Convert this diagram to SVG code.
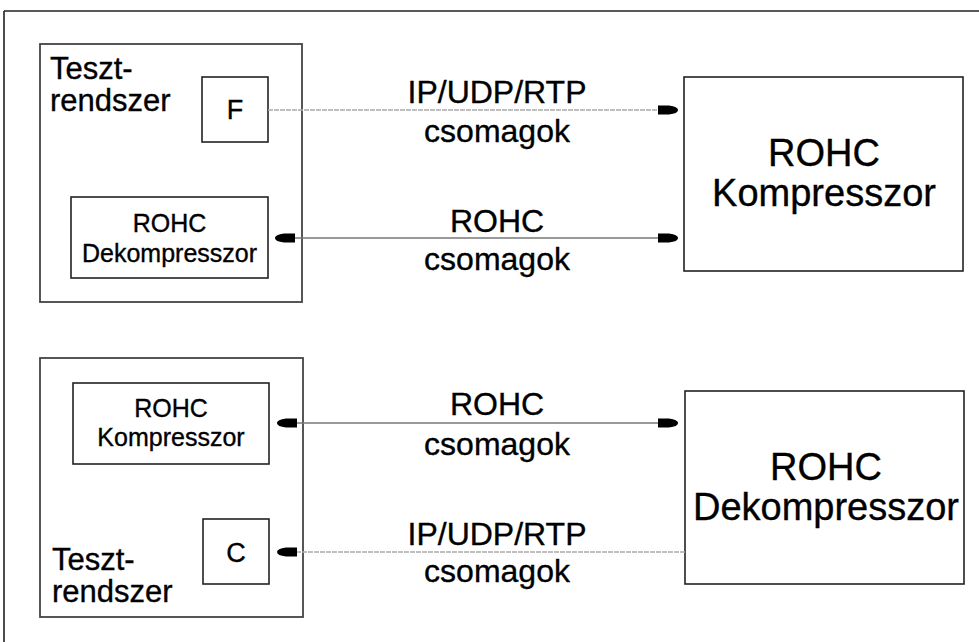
<svg xmlns="http://www.w3.org/2000/svg" width="979" height="642" viewBox="0 0 979 642">
<style>
text{font-family:"Liberation Sans",Arial,sans-serif;fill:#000;stroke:#000;stroke-width:0.35;}
.c{text-anchor:middle;}
.box{fill:#fff;stroke:#222;stroke-width:1.6;}
.outer{fill:#fff;stroke:#444;stroke-width:1.8;}
.solid{stroke:#777;stroke-width:1.4;fill:none;}
.dash{stroke:#aaa;stroke-width:1.6;stroke-dasharray:5 1;fill:none;}
.lbl{font-size:32px;}
.big{font-size:38px;}
.mid{font-size:25px;}
.fc{font-size:27px;}
.tz{font-size:31px;}
</style>
<defs>
<marker id="ah" viewBox="0 0 20 12" markerWidth="20" markerHeight="12" refX="20" refY="6" markerUnits="userSpaceOnUse" orient="auto-start-reverse">
<path d="M0,1.5 L11,1.5 Q20,2.5 20,6 Q20,9.5 11,10.5 L0,10.5 Z" fill="#000"/>
</marker>
</defs>
<rect width="979" height="642" fill="#fff"/>
<g id="frame">
<path d="M4,11 H979 M4,11 V642" stroke="#222" stroke-width="1.6" fill="none"/>
</g>
<g id="test-system-top">
<rect class="outer" x="40" y="44" width="262" height="258"/>
<text class="tz" x="50" y="79">Teszt-</text>
<text class="tz" x="50" y="111">rendszer</text>
</g>
<g id="F">
<rect class="box" x="202" y="77" width="66" height="65"/>
<text class="fc c" x="235" y="119">F</text>
</g>
<g id="dekomp-small">
<rect class="box" x="71" y="197" width="197" height="81"/>
<text class="mid c" x="169.5" y="232">ROHC</text>
<text class="mid c" x="169.5" y="262">Dekompresszor</text>
</g>
<g id="komp-big">
<rect class="box" x="684" y="77" width="279" height="194"/>
<text class="big c" x="824" y="166">ROHC</text>
<text class="big c" x="824" y="206">Kompresszor</text>
</g>
<g id="test-system-bottom">
<rect class="outer" x="40" y="358" width="263" height="259"/>
<text class="tz" x="52" y="570">Teszt-</text>
<text class="tz" x="52" y="602">rendszer</text>
</g>
<g id="komp-small">
<rect class="box" x="73" y="383" width="196" height="81"/>
<text class="mid c" x="171" y="417">ROHC</text>
<text class="mid c" x="171" y="446">Kompresszor</text>
</g>
<g id="C">
<rect class="box" x="203" y="519" width="66" height="65"/>
<text class="fc c" x="236" y="562">C</text>
</g>
<g id="dekomp-big">
<rect class="box" x="685" y="391" width="279" height="193"/>
<text class="big c" x="826" y="480">ROHC</text>
<text class="big c" x="826" y="520">Dekompresszor</text>
</g>
<g id="connectors">
<path class="dash" d="M268,110 H678" marker-end="url(#ah)"/>
<path class="solid" d="M275,238 H678" marker-start="url(#ah)" marker-end="url(#ah)"/>
<path class="solid" d="M277,423 H678" marker-start="url(#ah)" marker-end="url(#ah)"/>
<path class="dash" d="M685,552 H277" marker-end="url(#ah)"/>
</g>
<g id="labels">
<text class="lbl c" x="497" y="103">IP/UDP/RTP</text>
<text class="lbl c" x="497" y="142">csomagok</text>
<text class="lbl c" x="497" y="232">ROHC</text>
<text class="lbl c" x="497" y="270">csomagok</text>
<text class="lbl c" x="497" y="415">ROHC</text>
<text class="lbl c" x="497" y="455">csomagok</text>
<text class="lbl c" x="497" y="545">IP/UDP/RTP</text>
<text class="lbl c" x="497" y="582">csomagok</text>
</g>
</svg>
